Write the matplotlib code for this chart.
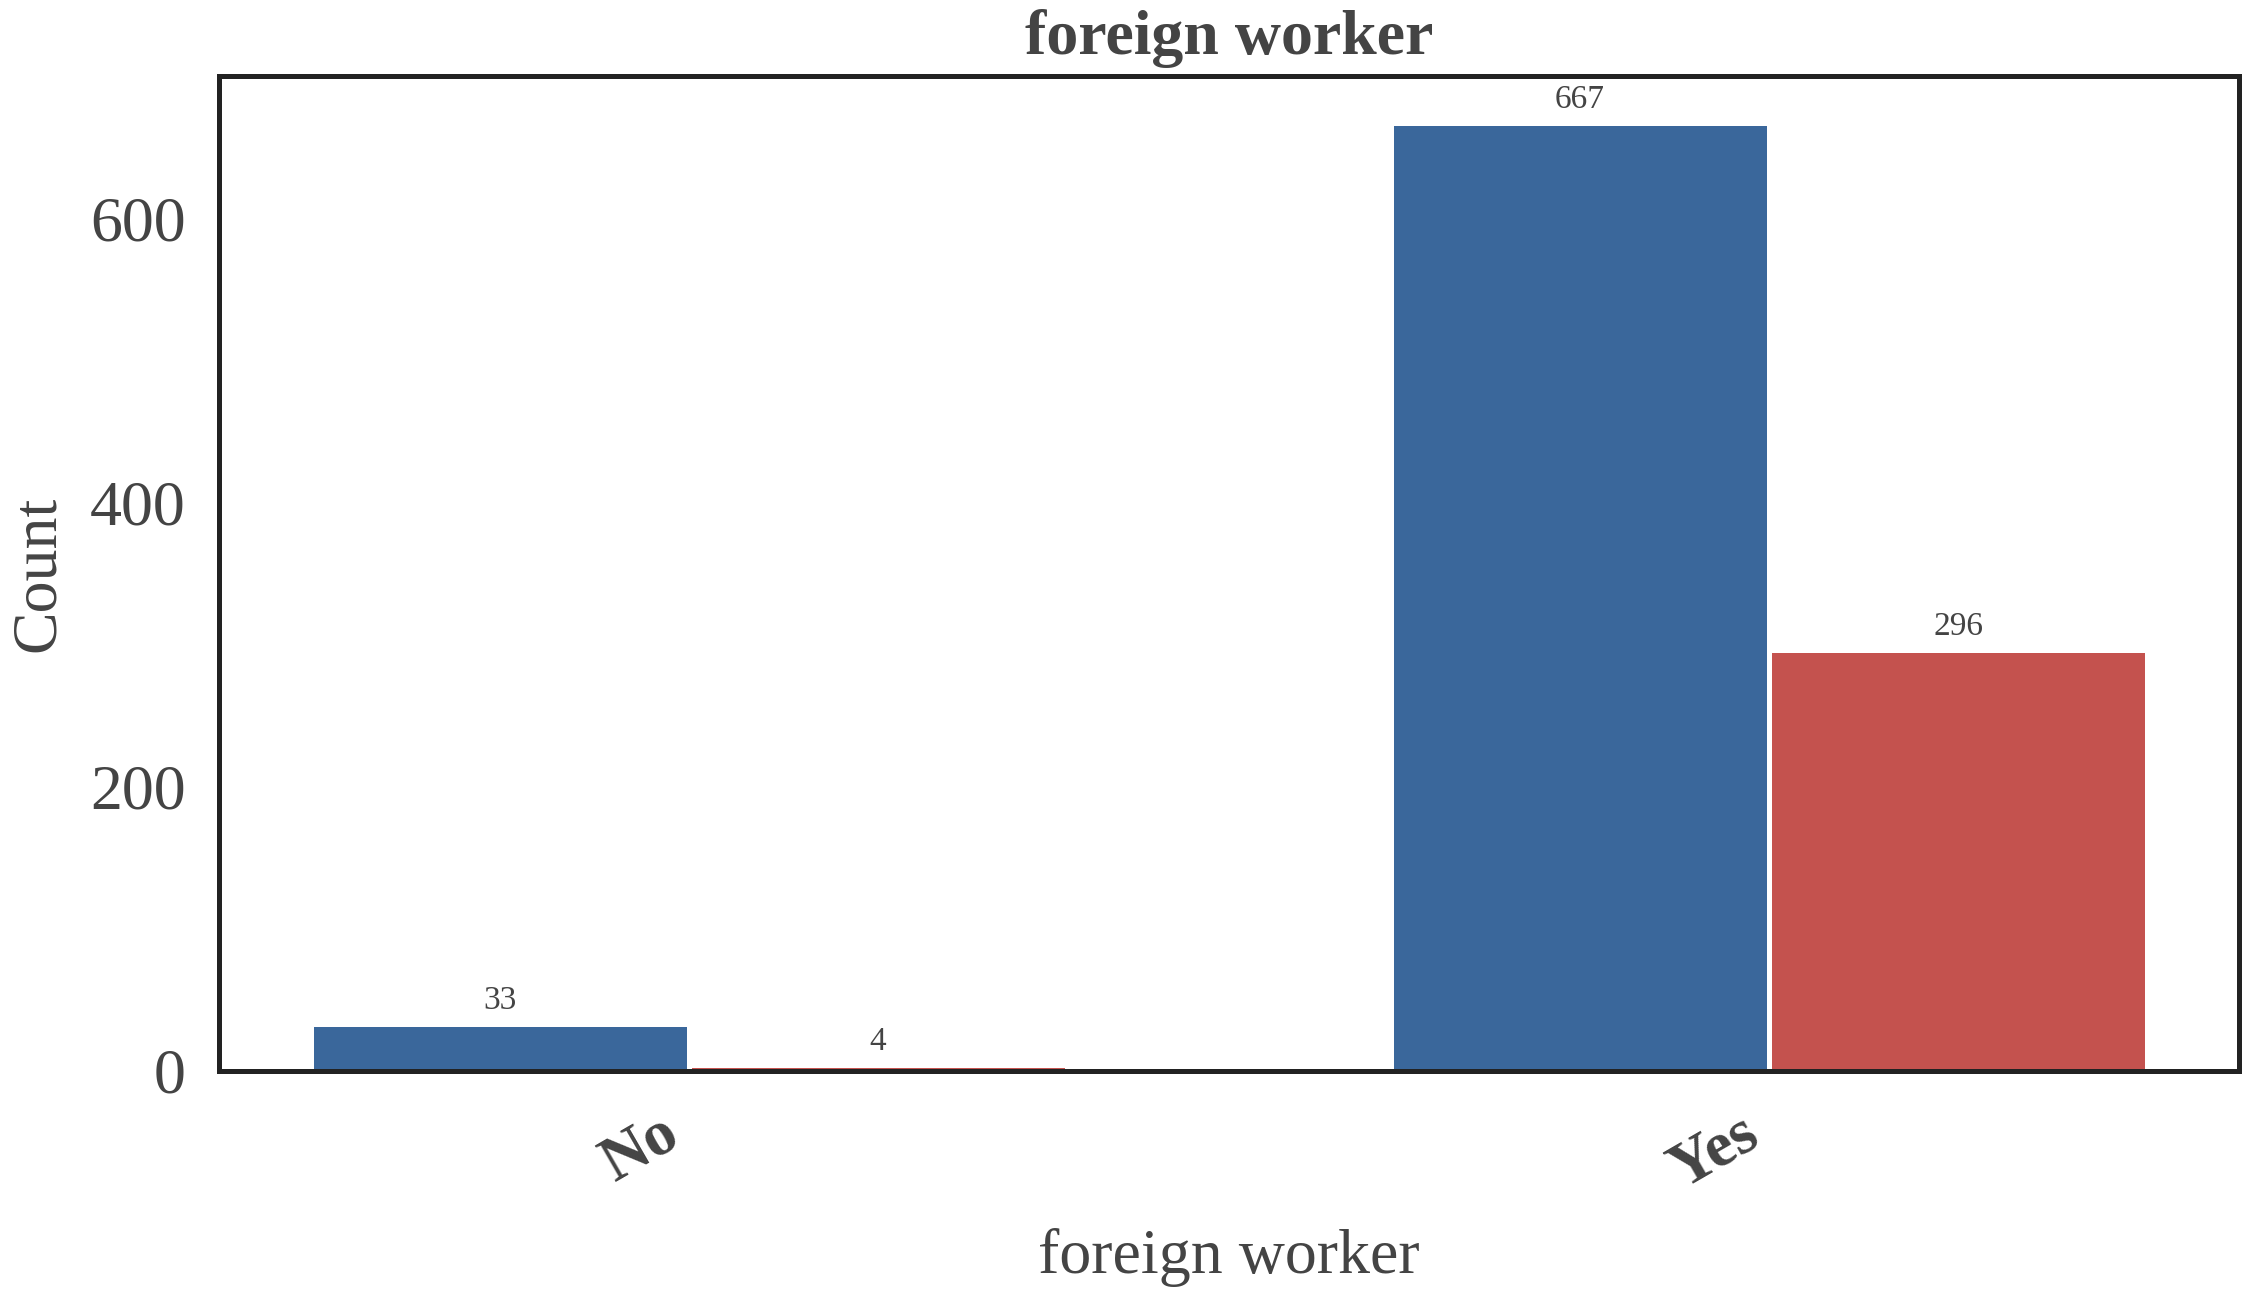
import numpy as np
import matplotlib
matplotlib.use('Agg')
import matplotlib.pyplot as plt

##### DATA ####
categories = ['No', 'Yes']
good_counts = [33, 667]   # credit risk = good
bad_counts = [4, 296]     # credit risk = bad

##### STYLE ####
plt.rcParams['font.family'] = ['Liberation Serif', 'DejaVu Serif']
text_col = '#444444'
plt.rcParams['text.color'] = text_col
plt.rcParams['axes.labelcolor'] = text_col
plt.rcParams['xtick.color'] = text_col
plt.rcParams['ytick.color'] = text_col

fig, ax = plt.subplots(figsize=(11.28, 6.485), dpi=200)
fig.subplots_adjust(left=0.097, right=0.9925, top=0.9414, bottom=0.1743)

x = np.arange(len(categories))
w = 0.35
b1 = ax.bar(x - w/2, good_counts, w, color='#3A679B', edgecolor='white', linewidth=1.8)
b2 = ax.bar(x + w/2, bad_counts, w, color='#C4524E', edgecolor='white', linewidth=1.8)

ax.bar_label(b1, padding=3, fontsize=12, color=text_col)
ax.bar_label(b2, padding=3, fontsize=12, color=text_col)

ax.set_xticks(x)
ax.set_xticklabels(categories, rotation=30, ha='right',
                   fontsize=23, fontweight='bold')
ax.set_yticks([0, 200, 400, 600])
ax.tick_params(axis='y', labelsize=23, length=0, pad=12)
ax.tick_params(axis='x', length=0, pad=12)

ax.set_xlabel('foreign worker', fontsize=23, labelpad=10)
ax.set_ylabel('Count', fontsize=23, labelpad=8)
ax.set_title('foreign worker', fontsize=23, fontweight='bold', pad=8)

for s in ax.spines.values():
    s.set_linewidth(1.8)
    s.set_color('#222222')

plt.savefig('out.png', dpi=200)
